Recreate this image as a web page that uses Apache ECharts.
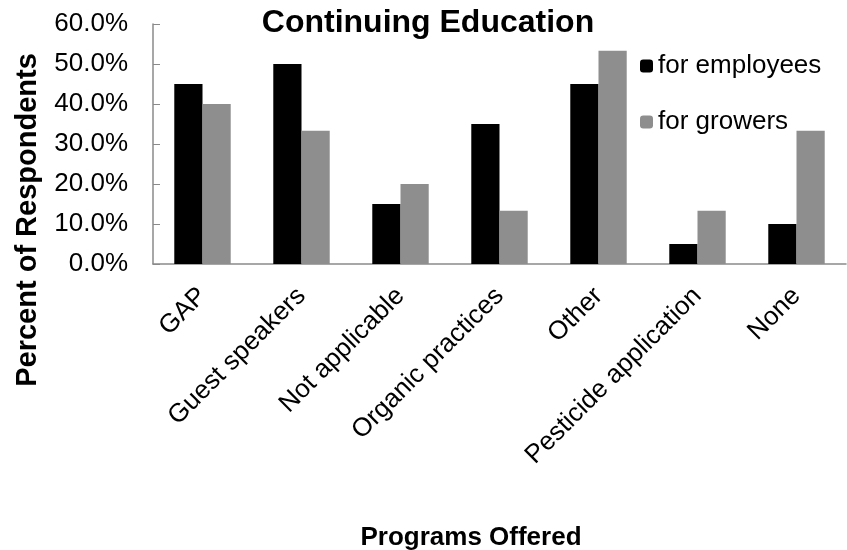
<!DOCTYPE html>
<html><head><meta charset="utf-8">
<script src="https://cdn.jsdelivr.net/npm/echarts@6/dist/echarts.min.js"></script>
<style>html,body{margin:0;padding:0;background:#fff}#c{width:847px;height:550px}</style>
</head><body><div id="c"></div>
<script>
const categories = ["GAP","Guest speakers","Not applicable","Organic practices","Other","Pesticide application","None"];
const employees = [45, 50, 15, 35, 45, 5, 10];
const growers = [40, 33.3, 20, 13.3, 53.3, 13.3, 33.3];
const yTicks = [0, 10, 20, 30, 40, 50, 60];

const chart = echarts.init(document.getElementById('c'));
const font = 'Liberation Sans, Arial, sans-serif';
chart.setOption({
  animation: false,
  textStyle: {fontFamily: font},
  title: [
    {text: 'Continuing Education', left: 423, top: 2, textAlign: 'center',
     textStyle: {fontFamily: font, fontSize: 32, fontWeight: 'bold', color: '#000'}},
    {text: 'Programs Offered', left: 466, top: 520, textAlign: 'center',
     textStyle: {fontFamily: font, fontSize: 26, fontWeight: 'bold', color: '#000'}}
  ],
  graphic: [
    {type: 'text', x: 28, y: 220, rotation: Math.PI / 2,
     style: {text: 'Percent of Respondents', fontFamily: font, fontSize: 29, fontWeight: 'bold',
             fill: '#000', align: 'center', verticalAlign: 'middle'}}
  ],
  legend: {
    orient: 'vertical', left: 635, top: 48, itemGap: 30, itemWidth: 13, itemHeight: 13,
    textStyle: {fontFamily: font, fontSize: 26, color: '#000'},
    data: ['for employees', 'for growers']
  },
  grid: {left: 153, right: 1, top: 24, bottom: 286, containLabel: false},
  xAxis: {
    type: 'category', data: categories,
    axisLine: {lineStyle: {color: '#8a8a8a', width: 1.5}},
    axisTick: {inside: true, length: 6, lineStyle: {color: '#8a8a8a'}},
    axisLabel: {rotate: 45, fontSize: 26, color: '#000', fontFamily: font, margin: 28, interval: 0}
  },
  yAxis: {
    type: 'value', min: 0, max: 60, interval: 10,
    axisLine: {show: true, lineStyle: {color: '#8a8a8a', width: 1.5}},
    axisTick: {show: true, inside: true, length: 7, lineStyle: {color: '#8a8a8a'}},
    splitLine: {show: false},
    axisLabel: {fontSize: 26, color: '#000', fontFamily: font, margin: 25,
      formatter: v => v.toFixed(1) + '%'}
  },
  series: [
    {name: 'for employees', type: 'bar', data: employees, barGap: '0%', barCategoryGap: '43%',
     itemStyle: {color: '#000'}},
    {name: 'for growers', type: 'bar', data: growers, barGap: '0%', barCategoryGap: '43%',
     itemStyle: {color: '#8e8e8e'}}
  ]
});
</script></body></html>
